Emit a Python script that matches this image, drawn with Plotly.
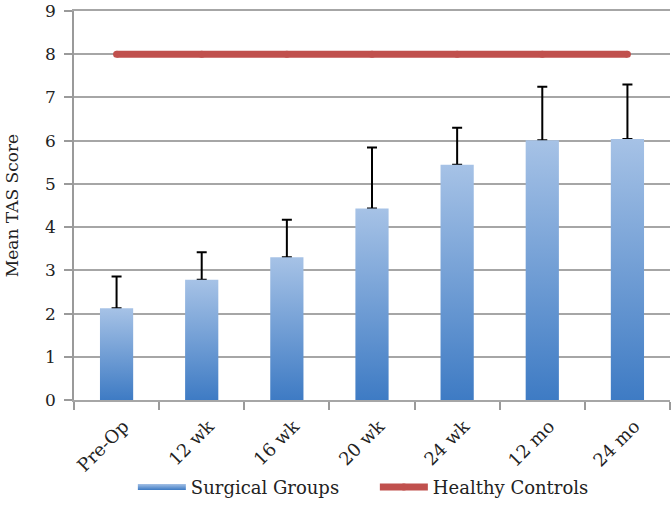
import plotly.graph_objects as go

categories = ["Pre-Op", "12 wk", "16 wk", "20 wk", "24 wk", "12 mo", "24 mo"]
surgical_mean = [2.12, 2.78, 3.30, 4.43, 5.44, 6.01, 6.04]
surgical_sd = [0.74, 0.64, 0.87, 1.41, 0.86, 1.24, 1.26]
healthy_controls = [8, 8, 8, 8, 8, 8, 8]

FONT = "DejaVu Serif"
BAR_HALF = 0.195
GRAD = [[0, "#3E7BC4"], [1, "#A6C2E6"]]

fig = go.Figure()
x_idx = list(range(len(categories)))

# error bars first so the bar bodies hide the lower cap
fig.add_trace(go.Scatter(
    x=x_idx, y=surgical_mean, mode="markers",
    marker=dict(size=1, color="rgba(0,0,0,0)"),
    error_y=dict(type="data", array=surgical_sd, arrayminus=[0]*7,
                 symmetric=False, color="#000000", thickness=2, width=5),
    showlegend=False, hoverinfo="skip",
))

for i, (c, v) in enumerate(zip(categories, surgical_mean)):
    fig.add_trace(go.Scatter(
        x=[i - BAR_HALF, i + BAR_HALF, i + BAR_HALF, i - BAR_HALF, i - BAR_HALF],
        y=[0, 0, v, v, 0],
        fill="toself", mode="none",
        fillcolor="#6E9BD6",
        fillgradient=dict(type="vertical", colorscale=GRAD),
        name="Surgical Groups", legendgroup="surg",
        showlegend=(i == 0), hoverinfo="skip",
    ))

fig.add_trace(go.Scatter(
    x=x_idx, y=healthy_controls, mode="lines+markers",
    line=dict(color="#C0504D", width=7),
    marker=dict(size=7, color="#C0504D"),
    name="Healthy Controls",
))

fig.update_layout(
    width=671, height=515,
    margin=dict(l=74, r=1, t=11, b=115),
    paper_bgcolor="white", plot_bgcolor="white",
    font=dict(family=FONT, size=18, color="#222222"),
    legend=dict(orientation="h", xref="container", x=0.198, xanchor="left",
                yref="container", y=0.054, yanchor="middle",
                font=dict(size=18), itemwidth=48, entrywidth=179,
                traceorder="normal"),
    xaxis=dict(
        range=[-0.5, 6.5], tickmode="array", tickvals=x_idx, ticktext=categories,
        tickangle=-45, ticks="", showgrid=False, zeroline=False,
        ticklabelstandoff=7, ticklabelshift=7, automargin=False, mirror=True,
        showline=True, linecolor="#A6A6A6", linewidth=1.5,
        minor=dict(ticks="outside", ticklen=8, tickcolor="#9A9A9A",
                   tickwidth=1.5, tickvals=[k - 0.5 for k in range(8)], showgrid=False),
    ),
    yaxis=dict(
        range=[0, 9], tickmode="array", tickvals=list(range(10)),
        ticks="outside", ticklen=8, tickcolor="#9A9A9A", ticklabelstandoff=5,
        ticklabeloverflow="allow", automargin=False, tickfont=dict(size=17),
        tickwidth=1.5, showgrid=True, gridcolor="#A6A6A6", gridwidth=1.5,
        zeroline=False, showline=True, linecolor="#9A9A9A", linewidth=1.5,
        title=dict(text="Mean TAS Score", standoff=22, font=dict(size=17)),
    ),
)

fig.write_html("out.html", config={"displayModeBar": False},
               post_script="document.body.style.margin='0';")
